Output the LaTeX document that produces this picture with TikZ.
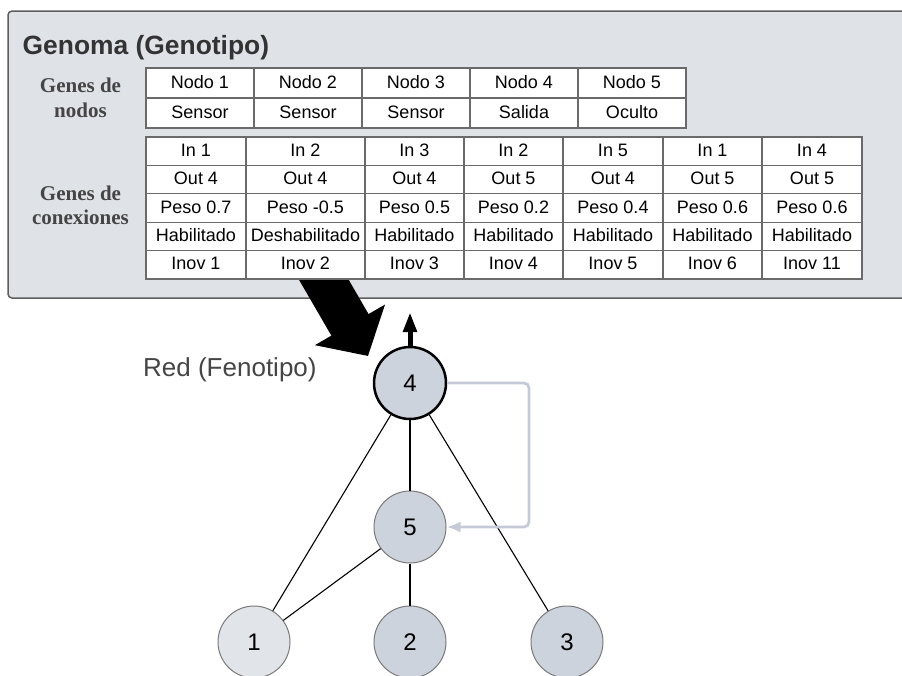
\documentclass[tikz,border=0pt]{standalone}
\usepackage{fontspec}
\setmainfont{Liberation Sans}
\newfontfamily\labelserif{Liberation Serif}
\usetikzlibrary{arrows.meta}

\definecolor{panelfill}{HTML}{DFE2E7}
\definecolor{panelline}{HTML}{5E5E5E}
\definecolor{gridline}{HTML}{6A6A6A}
\definecolor{titletext}{HTML}{333333}
\definecolor{labeltext}{HTML}{454545}
\definecolor{neuronfill}{HTML}{CDD3DC}
\definecolor{inputfill}{HTML}{E1E4E8}
\definecolor{neuronline}{HTML}{7A7A7A}
\definecolor{recurrent}{HTML}{C4CBD7}

\begin{document}
\begin{tikzpicture}[x=1pt,y=-1pt,
  cell/.style={draw=gridline, line width=1.3pt, fill=white, rectangle,
    anchor=north west, inner sep=0pt, outer sep=0pt,
    text height=13pt, text depth=3pt, font=\fontsize{18}{21}\selectfont},
  nodecell/.style={cell, minimum width=108pt, minimum height=30pt},
  conncell/.style={cell, minimum height=28.4pt},
  rowlabel/.style={anchor=base, inner sep=0pt, text=labeltext,
    font=\labelserif\bfseries\fontsize{21}{25}\selectfont},
  neuron/.style={circle, minimum size=72pt, inner sep=0pt, draw=neuronline,
    line width=1pt, fill=neuronfill, font=\fontsize{24}{28}\selectfont},
  link/.style={draw=black, line width=1.1pt}]

\useasboundingbox (0,0) rectangle (902,675);

% genome panel (runs past the right edge)
\draw[panelline, fill=panelfill, line width=1.5pt, rounded corners=4pt]
  (8,11) rectangle (912,298);
\node[anchor=base west, inner sep=0pt, text=titletext,
  font=\bfseries\fontsize{26.4}{30}\selectfont] (title) at (22.5,54) {Genoma (Genotipo)};

% big arrow from genome to network (drawn under the tables)
\coordinate (bigtail) at (295,230);
\coordinate (bigtip) at (368,356);
\draw[line width=43pt, -{Triangle[length=36pt,width=79pt]}] (bigtail) -- (bigtip);

% node genes
\node[rowlabel] (nl1) at (80.5,92) {Genes de};
\node[rowlabel] (nl2) at (80.5,117) {nodos};
\foreach \k/\ntop/\nkind in {1/Nodo 1/Sensor, 2/Nodo 2/Sensor, 3/Nodo 3/Sensor,
    4/Nodo 4/Salida, 5/Nodo 5/Oculto} {
  \node[nodecell] (ng-\k-a) at ({146+108*(\k-1)},68) {\ntop};
  \node[nodecell] (ng-\k-b) at ({146+108*(\k-1)},98) {\nkind};
}

% connection genes
\node[rowlabel] (cl1) at (80.5,200) {Genes de};
\node[rowlabel] (cl2) at (80.5,224) {conexiones};
\foreach \k/\cx/\cw/\ta/\tb/\tc/\td/\te in {
  1/146/100pt/In 1/Out 4/Peso 0.7/Habilitado/Inov 1,
  2/246/119pt/In 2/Out 4/Peso -0.5/Deshabilitado/Inov 2,
  3/365/99pt/In 3/Out 4/Peso 0.5/Habilitado/Inov 3,
  4/464/99pt/In 2/Out 5/Peso 0.2/Habilitado/Inov 4,
  5/563/100pt/In 5/Out 4/Peso 0.4/Habilitado/Inov 5,
  6/663/99pt/In 1/Out 5/Peso 0.6/Habilitado/Inov 6,
  7/762/100pt/In 4/Out 5/Peso 0.6/Habilitado/Inov 11} {
  \node[conncell, minimum width=\cw] (cg-\k-1) at (\cx,137) {\ta};
  \node[conncell, minimum width=\cw] (cg-\k-2) at (\cx,165.4) {\tb};
  \node[conncell, minimum width=\cw] (cg-\k-3) at (\cx,193.8) {\tc};
  \node[conncell, minimum width=\cw] (cg-\k-4) at (\cx,222.2) {\td};
  \node[conncell, minimum width=\cw] (cg-\k-5) at (\cx,250.6) {\te};
}

% network (phenotype)
\node[anchor=base west, inner sep=0pt, text=labeltext,
  font=\fontsize{26}{30}\selectfont] (pheno) at (143,376) {Red (Fenotipo)};

\node[neuron, draw=black, line width=2.5pt] (n4) at (410,383) {4};
\node[neuron] (n5) at (410,527) {5};
\node[neuron, fill=inputfill] (n1) at (254,642) {1};
\node[neuron] (n2) at (410,642) {2};
\node[neuron] (n3) at (567,642) {3};

\draw[link] (n4) -- (n1);
\draw[link] (n4) -- (n5);
\draw[link] (n4) -- (n3);
\draw[link] (n5) -- (n1);
\draw[link] (n5) -- (n2);

% recurrent connection 4 -> 5
\coordinate (loop) at (529,450);
\draw[recurrent, line width=2.8pt, rounded corners=5pt,
  -{Latex[length=14pt,width=11pt]}] (n4.east) -| (loop) |- (n5.east);

% output arrow
\coordinate (outtip) at (410,312);
\draw[line width=5pt, -{Triangle[length=20pt,width=13pt]}] (n4.north) -- (outtip);

\end{tikzpicture}
\end{document}
